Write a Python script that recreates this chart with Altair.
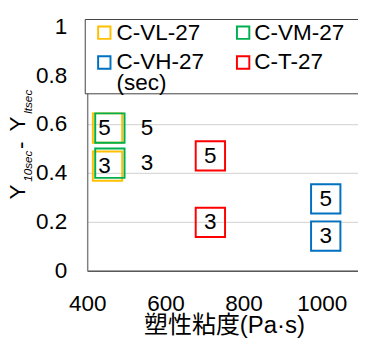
import altair as alt
import pandas as pd

FONT = "Liberation Sans, Arial, Noto Sans CJK JP"

# ---- data ----
series = ["C-VL-27", "C-VM-27", "C-VH-27", "C-T-27"]
colors = ["#FFC000", "#00B050", "#0070C0", "#FF0000"]
viscosity = {
    "C-VL-27": [452, 452],
    "C-VM-27": [458, 458],
    "C-VH-27": [1010, 1010],
    "C-T-27": [715, 715],
}
ydiff = {
    "C-VL-27": [0.584, 0.428],
    "C-VM-27": [0.584, 0.44],
    "C-VH-27": [0.294, 0.142],
    "C-T-27": [0.47, 0.198],
}
point_labels = ["5", "3"]
x_ticks = [400, 600, 800, 1000]
y_ticks = [0, 0.2, 0.4, 0.6, 0.8, 1]
x_title = "塑性粘度(Pa·s)"
legend_extra = "(sec)"

rows = []
for s in series:
    for xv, yv, lab in zip(viscosity[s], ydiff[s], point_labels):
        rows.append({"series": s, "x": xv, "y": yv, "label": lab})
df = pd.DataFrame(rows)

color_scale = alt.Scale(domain=series, range=colors)

xenc = alt.X(
    "x:Q",
    scale=alt.Scale(domain=[400, 1092.5], nice=False, zero=False),
    axis=alt.Axis(
        values=x_ticks, format="d", grid=False, ticks=False, domainColor="#595959", domainWidth=1.5,
        labelFontSize=23, labelFont=FONT, labelColor="black", labelPadding=23,
        labelFlush=False, labelOverlap=False,
        title=x_title, titleFontSize=24.5, titleFont=FONT, titleFontWeight="normal",
        titleColor="black", titleX=140, titleY=56, titleBaseline="middle", titleAlign="center",
    ),
)
yenc = alt.Y(
    "y:Q",
    scale=alt.Scale(domain=[0, 1], nice=False),
    axis=alt.Axis(
        values=y_ticks, format=".1~f", grid=True, gridColor="#d9d9d9", gridWidth=1.3,
        ticks=False, domainColor="#808080", domainWidth=1.5,
        labelFontSize=23, labelFont=FONT, labelColor="black", labelPadding=21,
        labelFlush=False, title=None,
    ),
)

base = alt.Chart(df)
points = base.mark_point(shape="square", filled=False, size=900, strokeWidth=2, opacity=1).encode(
    x=xenc, y=yenc, color=alt.Color("series:N", scale=color_scale, legend=None)
)

def labels_for(filt, dx):
    return base.transform_filter(filt).mark_text(
        fontSize=23, font=FONT, color="black", dx=dx, baseline="middle"
    ).encode(x="x:Q", y="y:Q", text="label:N")

lab_vl = labels_for(alt.datum.series == "C-VL-27", -3)
lab_vm = labels_for(alt.datum.series == "C-VM-27", 38)
lab_other = labels_for((alt.datum.series == "C-VH-27") | (alt.datum.series == "C-T-27"), 0)

one = alt.Chart(pd.DataFrame({"k": [0]}))

# legend box
legend_box = one.mark_rect(fill="white", stroke="#404040", strokeWidth=1).encode(
    x=alt.value(-2), x2=alt.value(320), y=alt.value(-7), y2=alt.value(69)
)

legend_layers = []
col_sym = [17.5, 159.5]
col_txt = [30, 171]
row_y = [6.5, 37, 58.5]
for i, (s, c) in enumerate(zip(series, colors)):
    col, row = i % 2, i // 2
    legend_layers.append(
        one.mark_point(shape="square", filled=False, size=160, strokeWidth=2, opacity=1).encode(
            x=alt.value(col_sym[col]), y=alt.value(row_y[row]), color=alt.value(c)
        )
    )
    legend_layers.append(
        one.mark_text(align="left", baseline="middle", fontSize=23, font=FONT, color="black").encode(
            x=alt.value(col_txt[col]), y=alt.value(row_y[row]), text=alt.value(s)
        )
    )
legend_layers.append(
    one.mark_text(align="left", baseline="middle", fontSize=23, font=FONT, color="black").encode(
        x=alt.value(col_txt[0]), y=alt.value(row_y[2]), text=alt.value(legend_extra)
    )
)

# y-axis title with subscripts
title_parts = [
    ("Y", 23, "normal", -71, 177),
    ("10sec", 12, "italic", -60.5, 159),
    ("-", 23, "normal", -68, 125.5),
    ("Y", 23, "normal", -71, 107.5),
    ("ltsec", 12, "italic", -60.5, 89.5),
]
title_layers = [
    one.mark_text(angle=270, align="left", baseline="middle", fontSize=fs, fontStyle=st,
                  font=FONT, color="black").encode(
        x=alt.value(px), y=alt.value(py), text=alt.value(t)
    )
    for t, fs, st, px, py in title_parts
]

chart = alt.layer(
    points, lab_vl, lab_vm, lab_other, legend_box, *legend_layers, *title_layers
).properties(
    width=277,
    height=250,
    padding={"left": 81, "top": 15, "right": 0, "bottom": 65},
    autosize=alt.AutoSizeParams(type="none"),
).configure_view(stroke=None)

chart.save("out.html", embed_options={"renderer": "svg", "actions": False})
